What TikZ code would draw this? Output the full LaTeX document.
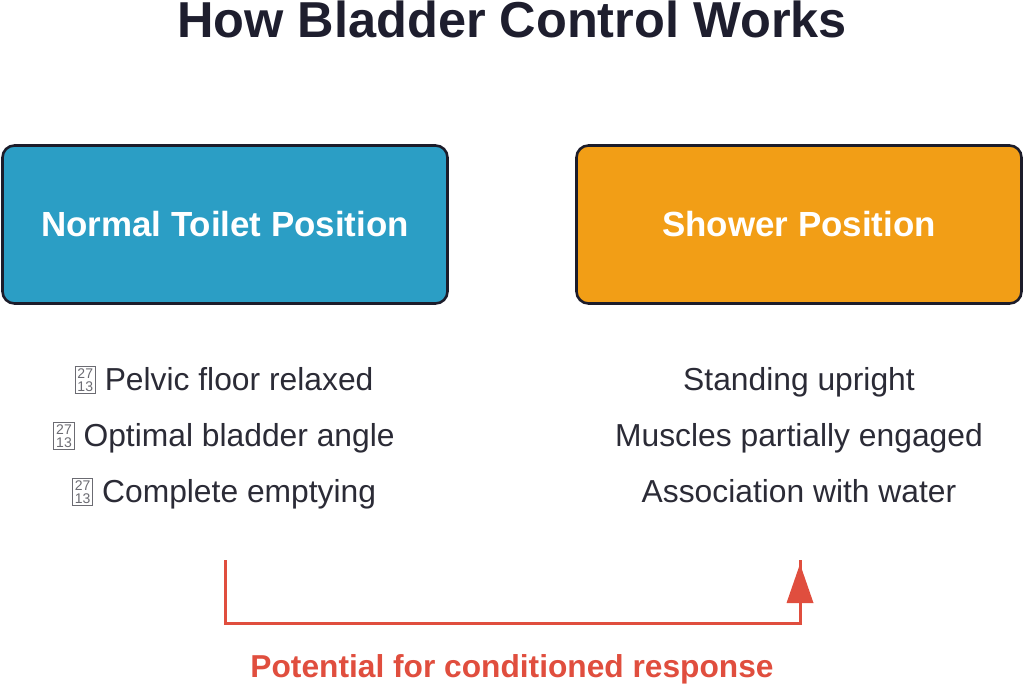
\documentclass[tikz,border=0pt]{standalone}
\usepackage{fontspec}
\setmainfont{Liberation Sans}
\definecolor{titlec}{HTML}{1E1E2E}
\definecolor{bodyc}{HTML}{2B2B36}
\definecolor{bluec}{HTML}{2B9EC5}
\definecolor{orangec}{HTML}{F29E16}
\definecolor{edgec}{HTML}{1C1C2A}
\definecolor{redc}{HTML}{E04E3E}
\newcommand\tofubox{{\setlength\fboxsep{2pt}\setlength\fboxrule{0.9pt}\color{bodyc!70}\raisebox{-1pt}{\fbox{\fontsize{14}{12}\selectfont\shortstack{27\\13}}}}}
\tikzset{
  posbox/.style={draw=edgec, line width=2.6pt, rounded corners=12pt, minimum width=445pt, minimum height=158pt, text=white, font=\fontsize{34.9}{38}\selectfont\bfseries},
  item/.style={text=bodyc, font=\fontsize{31.8}{34}\selectfont, anchor=base},
  link/.style={draw=redc, line width=3pt},
}
\begin{document}
\begin{tikzpicture}[x=1pt,y=-1pt]
\useasboundingbox (0,0) rectangle (1024,684);
\node[text=titlec, font=\fontsize{50.5}{54}\selectfont\bfseries, anchor=base, inner sep=0pt] (title) at (512,38) {How Bladder Control Works};
\node[posbox, fill=bluec] (normal) at (225,224.5) {Normal Toilet Position};
\node[posbox, fill=orangec] (shower) at (799,224.5) {Shower Position};
\node[item] (n1) at (224,390) {\tofubox\ Pelvic floor relaxed};
\node[item] (n2) at (224,446) {\tofubox\ Optimal bladder angle};
\node[item] (n3) at (224,502) {\tofubox\ Complete emptying};
\node[item] (s1) at (799,390) {Standing upright};
\node[item] (s2) at (799,446) {Muscles partially engaged};
\node[item] (s3) at (799,502) {Association with water};
\coordinate (a0) at (225,560);
\coordinate (a1) at (800,560);
\draw[link] (a0) -- (225,623) -- (800,623) -- (a1);
\fill[redc] (800,564) -- (813.5,603) -- (786.5,603) -- cycle;
\node[text=redc, font=\fontsize{31.7}{34}\selectfont\bfseries, anchor=base, inner sep=0pt] (lbl) at (512,677) {Potential for conditioned response};
\end{tikzpicture}
\end{document}
